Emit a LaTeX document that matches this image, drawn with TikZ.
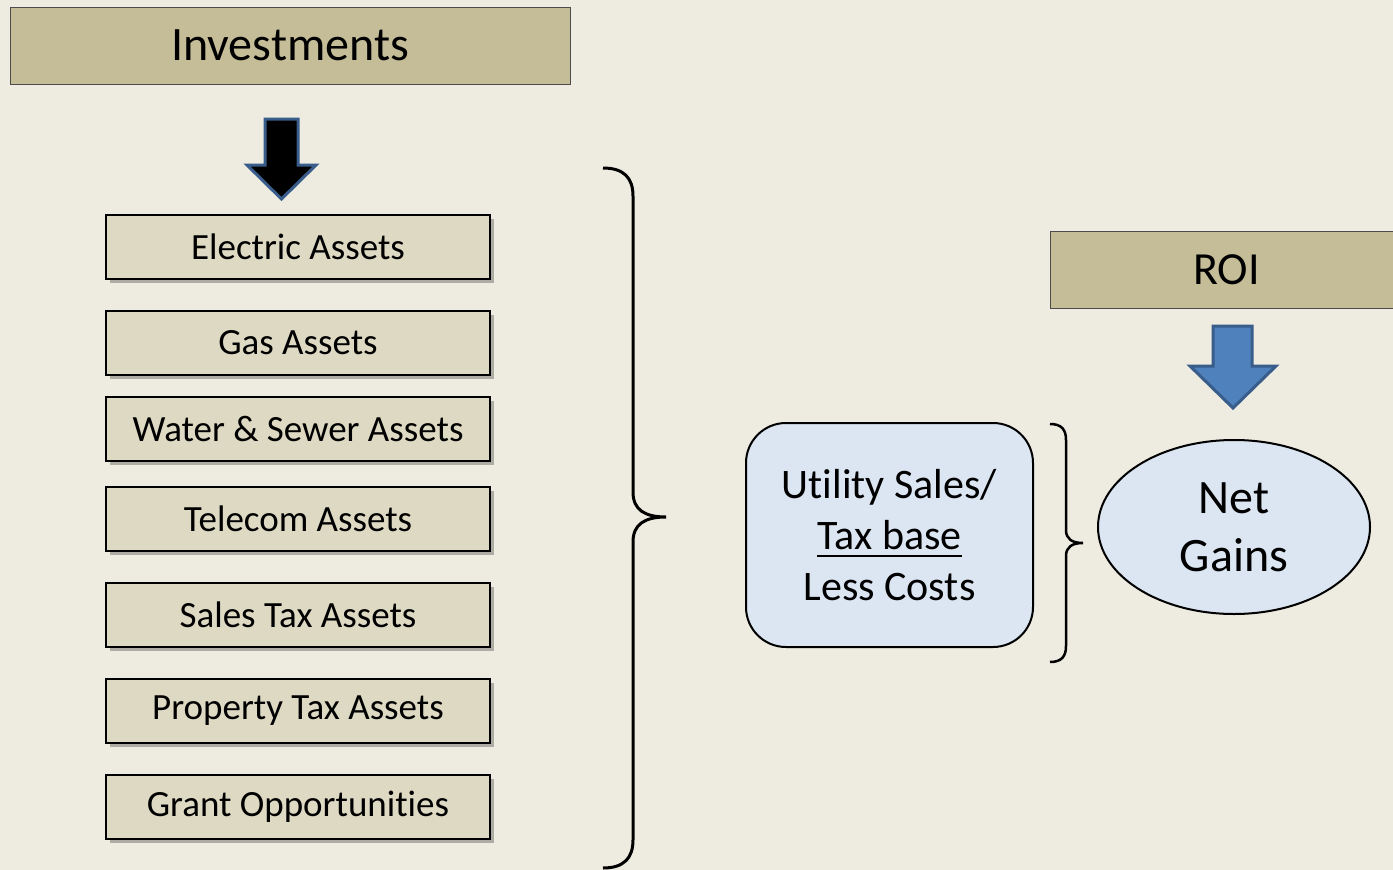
\documentclass[tikz,border=0pt]{standalone}
\usepackage{fontspec}
\setmainfont{Carlito}[Ligatures=NoCommon]
\newsavebox{\myulbox}
\newcommand\myul[1]{\sbox{\myulbox}{#1}\rlap{\rule[-8pt]{\wd\myulbox}{2.6pt}}\usebox{\myulbox}}
\usetikzlibrary{shapes.geometric,shadows}
\definecolor{bgc}{HTML}{EEECE1}
\definecolor{tan}{HTML}{C4BD97}
\definecolor{asset}{HTML}{DDD9C3}
\definecolor{lblue}{HTML}{DCE6F2}
\definecolor{abl}{HTML}{4F81BD}
\definecolor{abd}{HTML}{385D8A}
\tikzset{
  header/.style={draw=black!70, line width=1pt, fill=tan, minimum height=77pt, inner sep=0pt},
  assetbox/.style={draw=black, line width=2pt, fill=asset, minimum width=384pt, minimum height=64pt, inner sep=0pt,
     drop shadow={shadow xshift=4pt, shadow yshift=-4pt, opacity=0.4, fill=black!70}},
  assettext/.style={font=\fontsize{37}{44}\selectfont},
  bracel/.style={line width=3pt, line cap=butt},
  arr/.style={line width=3pt, line join=miter},
}
\begin{document}
\begin{tikzpicture}[x=1pt,y=-1pt]
\useasboundingbox (0,0) rectangle (1393,870);
\fill[bgc] (0,0) rectangle (1393,870);
% header
\node[header, minimum width=560pt, font=\fontsize{48}{56}\selectfont] (inv) at (290,45.5) {Investments};
\node[header, minimum width=352pt, anchor=west, text width=352pt, align=center, font=\fontsize{46}{54}\selectfont] (roi) at (1050,269.5) {ROI};
% top arrow
\draw[arr, draw=abd, fill=black] (265,119) -- (298,119) -- (298,165) -- (316,165) -- (281.5,199) -- (247,165) -- (265,165) -- cycle;
% ROI arrow
\draw[arr, draw=abd, fill=abl] (1213,326) -- (1252,326) -- (1252,366) -- (1276,366) -- (1233,408) -- (1190,366) -- (1213,366) -- cycle;
% asset boxes
\node[assetbox, assettext] (e) at (298,247) {Electric Assets};
\node[assetbox, assettext] (g) at (298,343) {Gas Assets};
\node[assetbox, assettext] (w) at (298,429) {Water \& Sewer Assets};
\node[assetbox, assettext] (t) at (298,519) {Telecom Assets};
\node[assetbox, assettext] (s) at (298,615) {Sales Tax Assets};
\node[assetbox, assettext] (p) at (298,711) {Property Tax Assets};
\node[assetbox, assettext] (o) at (298,807) {Grant Opportunities};
% big brace
\draw[bracel] (603,168) .. controls (624,168) and (633,178) .. (633,196) -- (633,492)
  .. controls (633,510) and (645,517) .. (666,517)
  .. controls (645,517) and (633,524) .. (633,542) -- (633,840)
  .. controls (633,858) and (624,868) .. (603,868);
% rounded box
\node[draw=black, line width=2pt, fill=lblue, rounded corners=40pt, minimum width=287pt, minimum height=224pt,
  align=center, font=\fontsize{42}{51}\selectfont] (u) at (889.5,535) {Utility Sales/\\\myul{Tax base}\\Less Costs};
% small brace
\draw[line width=2.5pt] (1050,424) .. controls (1062,424) and (1066,430) .. (1066,440) -- (1066,530)
  .. controls (1066,539) and (1072,543) .. (1083,543)
  .. controls (1072,543) and (1066,547) .. (1066,556) -- (1066,646)
  .. controls (1066,656) and (1062,662) .. (1050,662);
% ellipse
\node[draw=black, line width=2pt, fill=lblue, ellipse, minimum width=272pt, minimum height=174pt, inner sep=0pt,
  align=center, font=\fontsize{48}{58}\selectfont] (n) at (1234,527) {Net\\Gains};
\end{tikzpicture}
\end{document}
